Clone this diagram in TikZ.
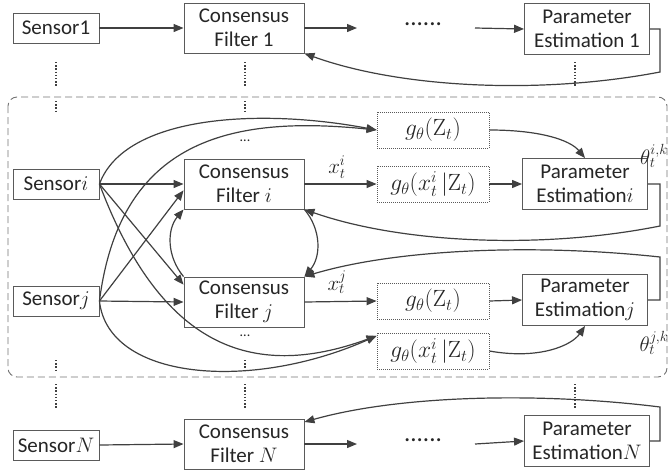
\documentclass[tikz,border=0pt]{standalone}
\usepackage{fix-cm}
\usepackage[no-math]{fontspec}
\setmainfont{Carlito}
\usetikzlibrary{arrows.meta}
\definecolor{lncol}{HTML}{404040}
\definecolor{bxcol}{HTML}{5A5A5A}
\definecolor{txcol}{HTML}{262626}
\newcommand{\fsz}{\fontsize{21}{24}\selectfont}
\newcommand{\msz}{\fontsize{23.5}{26}\selectfont}
\newcommand{\lsz}{\fontsize{21}{24}\selectfont}
\begin{document}
\begin{tikzpicture}[x=1pt,y=-1pt,
  box/.style={draw=bxcol, line width=0.9pt, fill=white, inner sep=0pt, font=\fsz, text=txcol, align=center},
  sbox/.style={box, minimum width=86pt, minimum height=30pt},
  cbox/.style={box, minimum width=120pt, minimum height=50pt},
  pbox/.style={box, minimum width=125pt, minimum height=51pt},
  gbox/.style={draw=bxcol, line width=0.8pt, dash pattern=on 1pt off 1pt, minimum width=112pt, minimum height=36pt, inner sep=0pt, font=\msz, text=txcol},
  arr/.style={draw=lncol, line width=1.2pt, -{Triangle[length=10pt,width=8pt]}},
  vdot/.style={draw=lncol, line width=1.3pt, dash pattern=on 1.3pt off 1.9pt},
  lbl/.style={font=\lsz, text=txcol, inner sep=0pt}]
\useasboundingbox (0,0) rectangle (670,475);
% dashed group
\draw[draw=bxcol!85, line width=0.9pt, dash pattern=on 7pt off 4pt, rounded corners=9pt] (8,97) rectangle (667,377);
% top row
\node[sbox] (s1) at (56,28) {Sensor1};
\node[cbox] (cf1) at (244,28) {Consensus\\Filter 1};
\node[pbox] (pe1) at (587,29) {Parameter\\Estimation 1};
\node[font=\fontsize{25}{28}\selectfont, text=txcol] (d1) at (423,24) {......};
\coordinate (d1l) at (357,28);
\coordinate (d1r) at (475,28);
% middle
\node[sbox] (si) at (56,184) {Sensor$i$};
\node[sbox] (sj) at (56,301) {Sensor$j$};
\node[cbox] (cfi) at (244,184) {Consensus\\Filter $i$};
\node[cbox] (cfj) at (244,302) {Consensus\\Filter $j$};
\node[pbox] (pei) at (585,184) {Parameter\\Estimation$i$};
\node[pbox] (pej) at (585,300) {Parameter\\Estimation$j$};
\node[gbox] (gzt) at (433,130) {$g_\theta(\mathrm{Z}_t)$};
\node[gbox] (gxi) at (433,184) {$g_\theta(x_t^i\,|\mathrm{Z}_t)$};
\node[gbox] (gzj) at (433,301) {$g_\theta(\mathrm{Z}_t)$};
\node[gbox] (gxb) at (433,351) {$g_\theta(x_t^i\,|\mathrm{Z}_t)$};
\node[font=\fontsize{14}{16}\selectfont, text=txcol] (e1) at (245,141) {...};
\node[font=\fontsize{14}{16}\selectfont, text=txcol] (e2) at (245,336) {...};
\node[lbl] (xi) at (337,167) {$x_t^i$};
\node[lbl] (xj) at (337,282) {$x_t^j$};
\node[lbl] (thi) at (654,156) {$\theta_t^{i,k}$};
\node[lbl] (thj) at (654,343) {$\theta_t^{j,k}$};
% bottom row
\node[sbox] (sN) at (56,445) {Sensor$N$};
\node[cbox] (cfN) at (244,444) {Consensus\\Filter $N$};
\node[pbox] (peN) at (587,441) {Parameter\\Estimation$N$};
\node[font=\fontsize{25}{28}\selectfont, text=txcol] (d2) at (423,440) {......};
\coordinate (d2l) at (357,444);
\coordinate (d2r) at (475,444);
% vertical dotted lines
\draw[vdot] (56,62) -- (56,87);
\draw[vdot] (245,62) -- (245,87);
\draw[vdot] (575,62) -- (575,87);
\draw[vdot] (56,101) -- (56,113);
\draw[vdot] (245,101) -- (245,113);
\draw[vdot] (56,360) -- (56,371);
\draw[vdot] (245,360) -- (245,371);
\draw[vdot] (56,384) -- (56,409);
\draw[vdot] (245,384) -- (245,409);
\draw[vdot] (575,384) -- (575,409);
% top row connectors
\draw[arr] (s1.east) -- (cf1.west);
\draw[arr] (cf1.east) -- (d1l);
\draw[arr] (d1r) -- (pe1.west);
\coordinate (fb1) at (660,72);
\draw[arr] (pe1.east) -| (fb1) .. controls (540,95) and (400,88) .. (cf1.south east);
% bottom row connectors
\draw[arr] (sN.east) -- (cfN.west);
\draw[arr] (cfN.east) -- (d2l);
\draw[arr] (d2r) -- (peN.west);
\coordinate (fbN) at (660,407);
\draw[arr] (peN.east) -| (fbN) .. controls (540,392) and (400,395) .. (cfN.20);
% middle connectors
\draw[arr] (si.east) -- (cfi.west);
\draw[arr] (si.east) -- (cfj.164);
\draw[arr] (sj.east) -- (cfi.186);
\draw[arr] (sj.east) -- (cfj.west);
\draw[arr] (si.east) .. controls (125,115) and (260,108) .. (gzt.west);
\draw[arr] (sj.east) .. controls (120,140) and (230,115) .. (gzt.west);
\draw[arr] (si.east) .. controls (160,345) and (250,382) .. (gxb.165);
\draw[arr] (sj.east) .. controls (108,380) and (250,392) .. (gxb.165);
\draw[arr] (cfj.north west) to[bend left=40] (cfi.south west);
\draw[arr] (cfi.south east) to[bend left=40] (cfj.north east);
\draw[arr] (cfi.east) -- (gxi.west);
\draw[arr] (cfj.east) -- (gzj.west);
\draw[arr] (gxi.east) -- (pei.west);
\draw[arr] (gzj.east) -- (pej.west);
\draw[arr] (gzt.east) .. controls (540,130) and (570,140) .. (pei.north);
\draw[arr] (gxb.east) .. controls (540,360) and (572,345) .. (pej.south);
\coordinate (fbi) at (660,226);
\draw[arr] (pei.east) -| (fbi) .. controls (540,250) and (400,243) .. (cfi.south east);
\coordinate (fbj) at (660,257);
\draw[arr] (pej.east) -| (fbj) .. controls (540,244) and (400,248) .. (cfj.north east);
\end{tikzpicture}
\end{document}
